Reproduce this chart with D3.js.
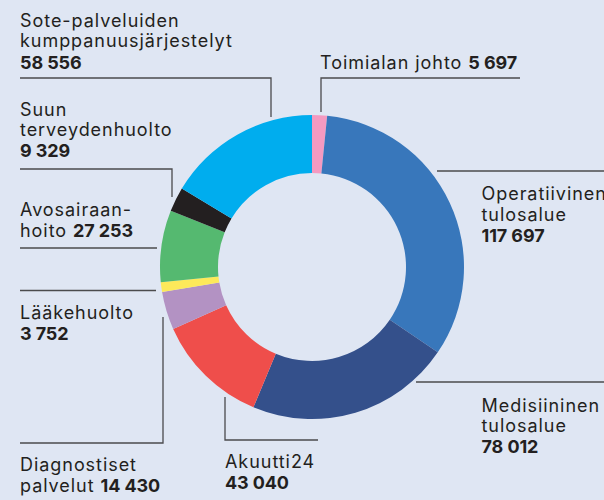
<!DOCTYPE html>
<html><head><meta charset="utf-8">
<script src="https://cdn.jsdelivr.net/npm/d3@7"></script>
<style>
html,body{margin:0;padding:0;background:#dfe6f3;}
svg{display:block;}
text{font-family:Inter,"Open Sans",sans-serif;fill:#231f20;}
</style></head>
<body><svg id="c" width="604" height="500"></svg>
<script>
// ---- data ----
const categories = ["Toimialan johto","Operatiivinen tulosalue","Medisiininen tulosalue","Akuutti24",
  "Diagnostiset palvelut","Lääkehuolto","Avosairaanhoito","Suun terveydenhuolto","Sote-palveluiden kumppanuusjärjestelyt"];
const values = [5697,117697,78012,43040,14430,3752,27253,9329,58556];
const colors = ["#f49ac1","#3877bb","#34508b","#ef4e4b","#b392c3","#fde95a","#55b970","#231f20","#00adee"];
// label text lines (the value is appended in bold to the last line)
const labelLines = [
  ["Toimialan johto "],
  ["Operatiivinen","tulosalue",""],
  ["Medisiininen","tulosalue",""],
  ["Akuutti24",""],
  ["Diagnostiset","palvelut "],
  ["Lääkehuolto",""],
  ["Avosairaan-","hoito "],
  ["Suun","terveydenhuolto",""],
  ["Sote-palveluiden","kumppanuusjärjestelyt",""]
];

// ---- layout ----
const cx = 312, cy = 267, R = 152, r = 94;
const labelPos = [
  {x:320, y:[69]},
  {x:481.5, y:[199.5,220.5,241.5]},
  {x:481.5, y:[411.5,432,453]},
  {x:225, y:[467.5,489]},
  {x:20, y:[470.5,491.5]},
  {x:20, y:[319,339.5]},
  {x:20, y:[216,237]},
  {x:20, y:[116,136,157]},
  {x:20, y:[26.5,47,68.5]}
];
const leaders = [
  "M520,78H321V112",
  "M437,171H604",
  "M416,382H604",
  "M318,440H225V397",
  "M20,443H163V317",
  "M20,290.5H156",
  "M20,248H157",
  "M20,169H172V197",
  "M20,78H271V117"
];

const fi = d3.formatLocale({decimal:",",thousands:"\u00a0",grouping:[3],currency:["","€"]});
const fmt = fi.format(",d");

const svg = d3.select("#c");
const pie = d3.pie().sort(null).value(d=>d).startAngle(0).endAngle(2*Math.PI);
const arc = d3.arc().innerRadius(r).outerRadius(R);
const g = svg.append("g").attr("transform",`translate(${cx},${cy})`);
g.selectAll("path").data(pie(values)).join("path")
  .attr("d",arc).attr("fill",(d,i)=>colors[i]);

svg.append("g").selectAll("path").data(leaders).join("path")
  .attr("d",d=>d).attr("fill","none").attr("stroke","#4b4b4d").attr("stroke-width",1.3);

const lg = svg.append("g");
labelLines.forEach((lines,i)=>{
  const p = labelPos[i];
  lines.forEach((ln,j)=>{
    const t = lg.append("text").attr("x",p.x).attr("y",p.y[j]).attr("font-size",18);
    if(ln) t.append("tspan").attr("letter-spacing",0.95).text(ln);
    if(j===lines.length-1) t.append("tspan").attr("font-weight",700).attr("letter-spacing",-0.1).text(fmt(values[i]));
  });
});
</script></body></html>
